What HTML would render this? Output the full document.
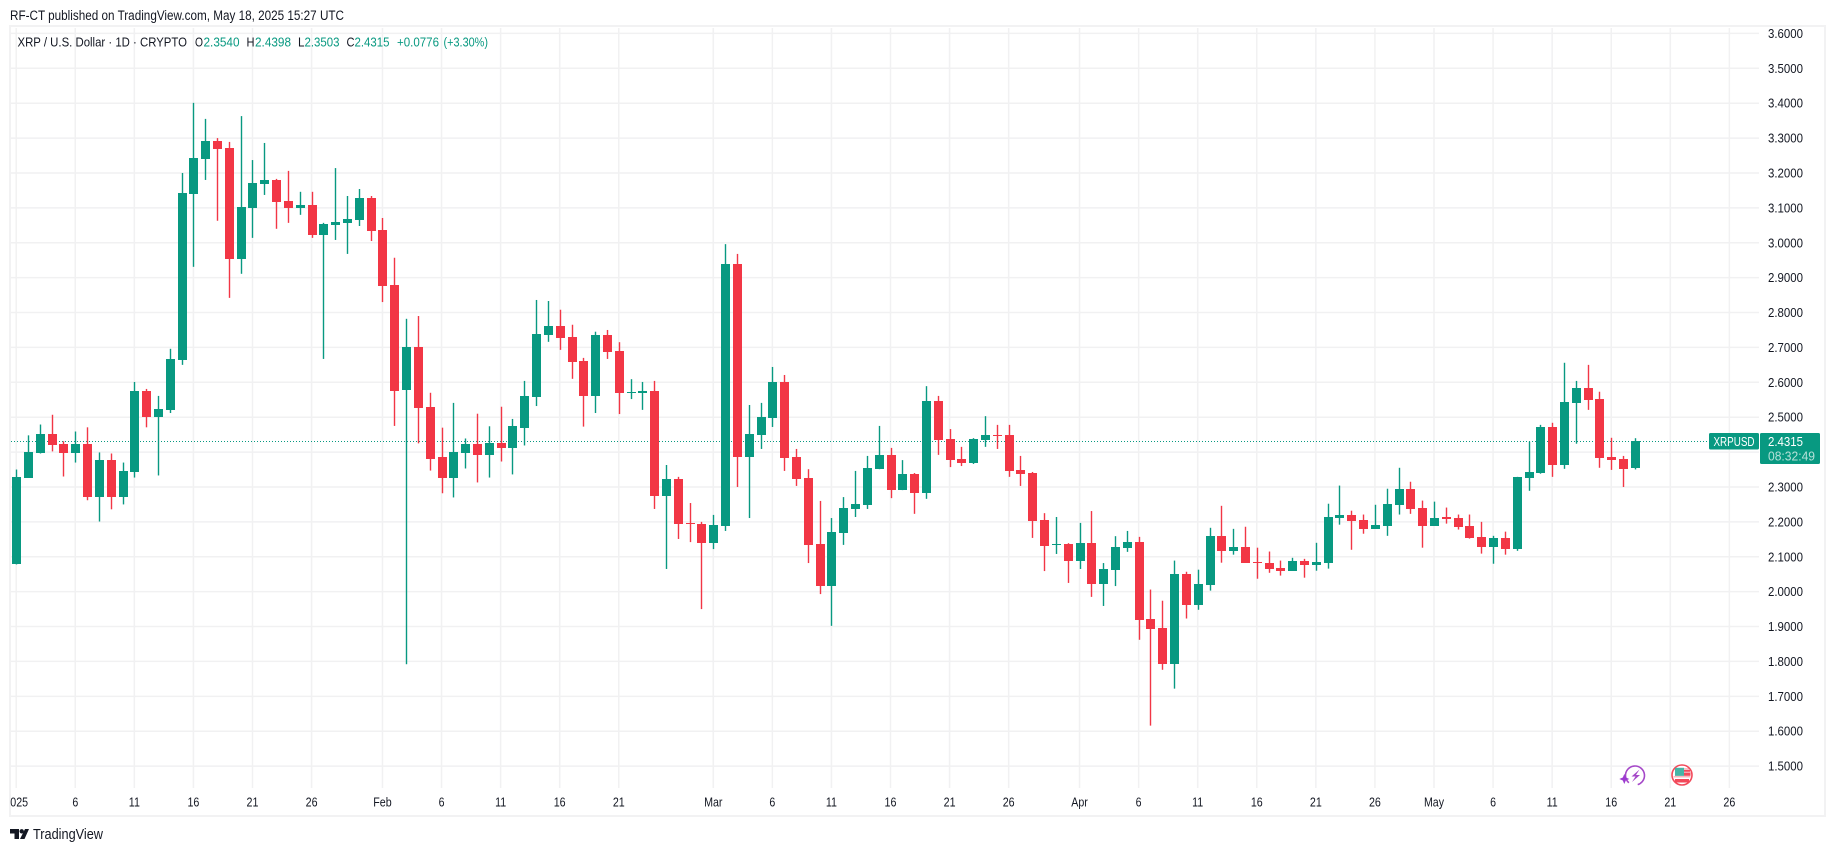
<!DOCTYPE html>
<html lang="en">
<head>
<meta charset="utf-8">
<title>XRP / U.S. Dollar candlestick chart</title>
<style>
html,body{margin:0;padding:0;background:#fff;width:1835px;height:851px;overflow:hidden}
svg{display:block;font-family:"Liberation Sans",sans-serif}
</style>
</head>
<body>
<svg id="chart" xmlns="http://www.w3.org/2000/svg" width="1835" height="851" viewBox="0 0 1835 851">
  <defs>
    <clipPath id="time-clip"><rect x="10" y="790" width="1750" height="24"></rect></clipPath>
  </defs>
  <text x="10" y="20" font-size="13.5" fill="#131722" textLength="334" lengthAdjust="spacingAndGlyphs">RF-CT published on TradingView.com, May 18, 2025 15:27 UTC</text>
  <rect x="10" y="26" width="1815" height="790" fill="none" stroke="#f2f2f3" stroke-width="2"></rect>
  <g id="grid"></g>
  <line x1="11" y1="441.5" x2="1709" y2="441.5" stroke="#089981" stroke-width="1" stroke-dasharray="1 2"></line>
  <g id="candles"></g>
  <g id="price-axis"></g>
  <g id="time-axis" clip-path="url(#time-clip)"></g>

  <g font-size="13">
    <text x="17.5" y="46.5" fill="#131722" textLength="169.5" lengthAdjust="spacingAndGlyphs">XRP / U.S. Dollar · 1D · CRYPTO</text>
    <text x="195" y="46.5" fill="#131722" textLength="8" lengthAdjust="spacingAndGlyphs">O</text>
    <text x="203.5" y="46.5" fill="#089981" textLength="36" lengthAdjust="spacingAndGlyphs">2.3540</text>
    <text x="246.5" y="46.5" fill="#131722" textLength="8" lengthAdjust="spacingAndGlyphs">H</text>
    <text x="255" y="46.5" fill="#089981" textLength="36" lengthAdjust="spacingAndGlyphs">2.4398</text>
    <text x="298" y="46.5" fill="#131722" textLength="6.5" lengthAdjust="spacingAndGlyphs">L</text>
    <text x="304.5" y="46.5" fill="#089981" textLength="35" lengthAdjust="spacingAndGlyphs">2.3503</text>
    <text x="346.5" y="46.5" fill="#131722" textLength="8" lengthAdjust="spacingAndGlyphs">C</text>
    <text x="354.5" y="46.5" fill="#089981" textLength="35" lengthAdjust="spacingAndGlyphs">2.4315</text>
    <text x="397" y="46.5" fill="#089981" textLength="42" lengthAdjust="spacingAndGlyphs">+0.0776</text>
    <text x="443.5" y="46.5" fill="#089981" textLength="44.5" lengthAdjust="spacingAndGlyphs">(+3.30%)</text>
  </g>

  <g>
    <rect x="1709" y="433" width="50" height="16.5" rx="1.5" fill="#089981"></rect>
    <text x="1713.5" y="446" font-size="12.5" fill="#fff" textLength="41" lengthAdjust="spacingAndGlyphs">XRPUSD</text>
  </g>
  <g>
    <rect x="1760" y="433" width="60" height="31" rx="1.5" fill="#089981"></rect>
    <text x="1768" y="446" font-size="13" fill="#fff" textLength="35" lengthAdjust="spacingAndGlyphs">2.4315</text>
    <text x="1768" y="460.5" font-size="13" fill="#b5e0d8" textLength="47" lengthAdjust="spacingAndGlyphs">08:32:49</text>
  </g>

  <g>
    <circle cx="1635" cy="775.5" r="9.5" fill="#fff" stroke="#a548c8" stroke-width="1.6" stroke-dasharray="50 10" transform="rotate(130 1635 775.5)"></circle>
    <path d="M1639.5 769.5 L1631.5 776.5 L1635.5 776.5 L1632 782 L1640 775 L1636 775 Z" fill="#a548c8"></path>
    <path d="M1624.3 774 L1625.8 777.5 L1629.3 779 L1625.8 780.5 L1624.3 784 L1622.8 780.5 L1619.3 779 L1622.8 777.5 Z" fill="#9c3ad0"></path>
  </g>
  <g>
    <circle cx="1682" cy="775" r="10" fill="#fff" stroke="#f2495a" stroke-width="1.6"></circle>
    <path d="M1676 768 H1689 V771 H1684 V776 H1675 Z" fill="#f2495a" opacity="0.35"></path>
    <rect x="1675" y="767.8" width="9" height="8" fill="#45b5a6"></rect>
    <rect x="1684" y="770" width="6" height="1.8" fill="#f2495a"></rect>
    <rect x="1684" y="772.5" width="6.5" height="3.3" fill="#f2495a"></rect>
    <rect x="1673.5" y="776" width="17" height="1.5" fill="#f9b8bf"></rect>
    <rect x="1675" y="779" width="14" height="3.5" fill="#f2495a"></rect>
  </g>

  <g>
    <path d="M10 829 H19 V839 H14.5 V833.5 H10 Z M25 829 H29 L24.5 839 H20 Z" fill="#131722"></path>
    <circle cx="21.7" cy="831.3" r="2.2" fill="#131722"></circle>
    <text x="33" y="839" font-size="14.5" fill="#131722" textLength="70" lengthAdjust="spacingAndGlyphs">TradingView</text>
  </g>
</svg>
<script>
const dayTickIndexes = [0,5,10,15,20,25,31,36,41,46,51,59,64,69,74,79,84,90,95,100,105,110,115,120,125,130,135,140,145];
const dayTickLabels = ["2025","6","11","16","21","26","Feb","6","11","16","21","Mar","6","11","16","21","26","Apr","6","11","16","21","26","May","6","11","16","21","26"];
const priceTicks = [1.5,1.6,1.7,1.8,1.9,2.0,2.1,2.2,2.3,2.4,2.5,2.6,2.7,2.8,2.9,3.0,3.1,3.2,3.3,3.4,3.5,3.6];
const opens = [2.078,2.327,2.396,2.453,2.422,2.396,2.422,2.270,2.376,2.270,
2.342,2.575,2.501,2.521,2.664,3.140,3.240,3.292,3.272,2.954,
3.100,3.169,3.180,3.120,3.100,3.108,3.022,3.051,3.057,3.065,
3.128,3.037,2.879,2.578,2.702,2.530,2.385,2.325,2.396,2.422,
2.393,2.425,2.413,2.469,2.558,2.736,2.762,2.730,2.661,2.561,
2.736,2.690,2.569,2.569,2.575,2.274,2.323,2.197,2.194,2.139,
2.188,2.939,2.386,2.449,2.498,2.601,2.386,2.326,2.137,2.016,
2.168,2.237,2.248,2.351,2.392,2.291,2.337,2.283,2.546,2.437,
2.380,2.369,2.435,2.449,2.449,2.349,2.340,2.205,2.134,2.137,
2.088,2.139,2.022,2.062,2.125,2.142,1.922,1.897,1.794,2.051,
1.963,2.020,2.160,2.117,2.129,2.086,2.083,2.069,2.060,2.089,
2.077,2.083,2.212,2.221,2.206,2.180,2.189,2.249,2.295,2.241,
2.189,2.215,2.212,2.189,2.158,2.129,2.155,2.123,2.327,2.341,
2.473,2.364,2.541,2.584,2.553,2.386,2.381,2.354];
const highs = [2.350,2.448,2.479,2.507,2.431,2.459,2.471,2.399,2.396,2.370,
2.601,2.581,2.561,2.696,3.200,3.401,3.355,3.300,3.289,3.363,
3.237,3.286,3.183,3.206,3.146,3.146,3.057,3.214,3.134,3.154,
3.134,3.071,2.957,2.782,2.790,2.570,2.470,2.541,2.439,2.510,
2.474,2.530,2.495,2.604,2.836,2.833,2.808,2.765,2.670,2.745,
2.750,2.715,2.609,2.601,2.604,2.363,2.329,2.254,2.200,2.220,
2.996,2.968,2.535,2.541,2.644,2.621,2.409,2.351,2.260,2.211,
2.271,2.346,2.389,2.475,2.412,2.377,2.340,2.589,2.561,2.466,
2.415,2.440,2.503,2.478,2.478,2.389,2.343,2.225,2.214,2.139,
2.197,2.231,2.082,2.159,2.174,2.157,2.006,1.974,2.089,2.057,
2.063,2.183,2.246,2.180,2.186,2.126,2.115,2.089,2.097,2.094,
2.140,2.252,2.304,2.232,2.221,2.249,2.295,2.355,2.315,2.261,
2.258,2.241,2.221,2.221,2.200,2.160,2.172,2.329,2.430,2.478,
2.484,2.656,2.604,2.650,2.573,2.441,2.389,2.4398];
const lows = [2.078,2.327,2.396,2.402,2.330,2.370,2.262,2.201,2.236,2.250,
2.327,2.471,2.333,2.512,2.650,2.931,3.180,3.063,2.842,2.911,
3.014,3.137,3.040,3.057,3.080,3.014,2.667,3.008,2.968,3.048,
3.005,2.830,2.475,1.792,2.425,2.347,2.282,2.270,2.353,2.313,
2.327,2.373,2.336,2.419,2.532,2.716,2.693,2.610,2.473,2.512,
2.667,2.509,2.552,2.521,2.237,2.065,2.151,2.142,1.950,2.122,
2.174,2.300,2.211,2.409,2.472,2.346,2.303,2.082,1.993,1.902,
2.134,2.214,2.237,2.351,2.268,2.291,2.223,2.266,2.392,2.357,
2.360,2.366,2.415,2.409,2.329,2.303,2.154,2.059,2.108,2.025,
2.065,1.985,1.959,2.016,2.114,1.862,1.616,1.776,1.722,1.923,
1.948,2.003,2.083,2.106,2.083,2.037,2.054,2.046,2.060,2.040,
2.060,2.066,2.192,2.120,2.166,2.180,2.160,2.221,2.223,2.126,
2.189,2.195,2.178,2.152,2.109,2.080,2.106,2.117,2.289,2.338,
2.329,2.352,2.424,2.521,2.355,2.349,2.300,2.3503];
const closes = [2.330,2.399,2.453,2.419,2.396,2.422,2.270,2.376,2.270,2.345,
2.575,2.501,2.524,2.667,3.143,3.243,3.292,3.269,2.954,3.103,
3.171,3.180,3.117,3.100,3.108,3.022,3.054,3.060,3.068,3.128,
3.034,2.876,2.575,2.702,2.527,2.379,2.325,2.399,2.422,2.393,
2.425,2.413,2.474,2.561,2.739,2.762,2.727,2.659,2.561,2.736,
2.687,2.569,2.572,2.575,2.274,2.323,2.194,2.194,2.139,2.191,
2.939,2.386,2.452,2.500,2.601,2.383,2.323,2.134,2.016,2.171,
2.240,2.251,2.354,2.392,2.291,2.337,2.283,2.546,2.435,2.377,
2.369,2.437,2.449,2.446,2.346,2.337,2.202,2.131,2.137,2.088,
2.139,2.022,2.065,2.128,2.142,1.919,1.894,1.794,2.051,1.963,
2.023,2.160,2.117,2.129,2.083,2.083,2.066,2.060,2.089,2.077,
2.086,2.215,2.221,2.203,2.180,2.192,2.252,2.295,2.238,2.189,
2.212,2.209,2.186,2.155,2.129,2.155,2.123,2.329,2.344,2.473,
2.364,2.544,2.584,2.550,2.384,2.378,2.352,2.4315];

const SVG_NS = 'http://www.w3.org/2000/svg';
const UP_COLOR = '#089981';
const DOWN_COLOR = '#F23645';
const GRID_COLOR = '#f1f1f2';
const BODY_WIDTH = 9;

function xScale(dayIndex) { return 16.2 + dayIndex * 11.815; }
function yScale(price) { return 68.3 + (3.5 - price) * 348.9; }

function make(tag, attrs) {
  const el = document.createElementNS(SVG_NS, tag);
  for (const key in attrs) { el.setAttribute(key, attrs[key]); }
  return el;
}

const gridLayer = document.getElementById('grid');
const candleLayer = document.getElementById('candles');
const priceAxis = document.getElementById('price-axis');
const timeAxis = document.getElementById('time-axis');

priceTicks.forEach(function (price) {
  const y = yScale(price);
  const line = make('line', { x1: 11, x2: 1759, y1: y, y2: y, stroke: GRID_COLOR, 'stroke-width': 1.5 });
  
  
  gridLayer.appendChild(line);
  const label = make('text', { x: 1768, y: y + 4.5, 'font-size': 13, fill: '#131722', textLength: 35, lengthAdjust: 'spacingAndGlyphs' });
  
  
  label.textContent = price.toFixed(4);
  priceAxis.appendChild(label);
});

dayTickIndexes.forEach(function (dayIndex, n) {
  const x = xScale(dayIndex);
  const line = make('line', { x1: x, x2: x, y1: 28, y2: 788, stroke: GRID_COLOR, 'stroke-width': 1.5 });
  
  
  gridLayer.appendChild(line);
  const label = make('text', { x: x, y: 806.3, 'font-size': 13, fill: '#131722', 'text-anchor': 'middle' });
  
  
  label.textContent = dayTickLabels[n];
  timeAxis.appendChild(label);
  label.setAttribute('textLength', (label.getComputedTextLength() * 0.82).toFixed(1));
  label.setAttribute('lengthAdjust', 'spacingAndGlyphs');
});

opens.forEach(function (open, i) {
  const close = closes[i];
  const color = close >= open ? UP_COLOR : DOWN_COLOR;
  const cx = Math.round(xScale(i));
  const wick = make('rect', {
    x: cx - 0.2,
    y: yScale(highs[i]),
    width: 1.4,
    height: Math.max(1, yScale(lows[i]) - yScale(highs[i])),
    fill: color
  });
  
  
  candleLayer.appendChild(wick);
  const top = Math.round(yScale(Math.max(open, close)));
  const bottom = Math.round(yScale(Math.min(open, close)));
  const body = make('rect', {
    x: cx - (BODY_WIDTH - 1) / 2,
    y: top,
    width: BODY_WIDTH,
    height: Math.max(1, bottom - top),
    fill: color
  });
  
  
  candleLayer.appendChild(body);
});
</script>
</body>
</html>
